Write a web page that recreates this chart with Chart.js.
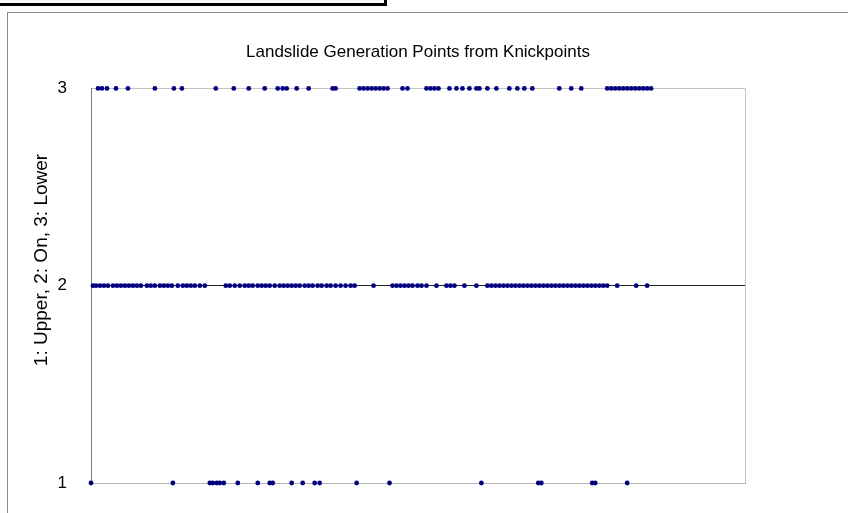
<!DOCTYPE html>
<html><head><meta charset="utf-8">
<script src="https://cdn.jsdelivr.net/npm/chart.js@4.4.0/dist/chart.umd.min.js"></script>
<style>
html,body{margin:0;padding:0;background:#fff;overflow:hidden;width:848px;height:513px;}
#frame{position:absolute;left:7px;top:12px;width:900px;height:600px;border:1px solid #8a8a8a;}
#box{position:absolute;left:-10px;top:-22px;width:391px;height:22px;border:3px solid #000;background:#fff;}
#c{position:absolute;left:0;top:0;}
</style></head>
<body>
<div id="frame"></div>
<div id="box"></div>
<canvas id="c" width="848" height="513"></canvas>
<script>
const chartTitle = 'Landslide Generation Points from Knickpoints';
const yAxisTitle = '1: Upper, 2: On, 3: Lower';
const yTickValues = [1, 2, 3];
// positions along the river (arbitrary distance units, no tick labels shown)
const upperPos = [0, 16.4, 23.8, 24.4, 25.2, 25.8, 26.6, 29.4, 33.4, 35.8, 36.4, 40.2, 42.4, 44.8, 45.8, 53.2, 59.8, 78.2, 89.6, 90.2, 100.4, 101.0, 107.4];
const onPos = [0.4, 1.0, 1.8, 2.6, 3.4, 4.4, 5.2, 6.0, 6.8, 7.6, 8.4, 9.2, 10.0, 11.2, 12.0, 12.8, 13.8, 14.6, 15.4, 16.2, 17.4, 18.4, 19.2, 20.0, 20.8, 21.8, 22.8,
  27.0, 27.8, 28.8, 29.8, 30.8, 31.6, 32.4, 33.4, 34.2, 35.0, 35.8, 36.8, 37.8, 38.6, 39.4, 40.2, 41.0, 41.8, 42.8, 43.6, 44.4, 45.4, 46.2, 47.2, 48.0, 49.0, 50.0, 51.0, 52.0, 52.8,
  56.6, 60.4, 61.2, 62.0, 62.8, 63.6, 64.4, 65.4, 66.2, 67.2, 69.2, 71.2, 72.0, 72.8, 74.8, 77.2,
  79.4, 80.2, 81.0, 81.8, 82.6, 83.4, 84.2, 85.0, 85.8, 86.6, 87.4, 88.2, 89.0, 89.8, 90.6, 91.4, 92.2, 93.0, 93.8, 94.6, 95.4, 96.2, 97.0, 97.8, 98.6, 99.4, 100.2, 101.0, 101.8, 102.6, 103.4,
  105.4, 109.2, 111.4];
const lowerPos = [1.4, 2.2, 3.2, 5.0, 7.4, 12.8, 16.6, 18.2, 25.0, 28.6, 31.6, 34.8, 37.4, 38.4, 39.2, 41.2, 43.6, 48.4, 49.0,
  53.8, 54.6, 55.4, 56.2, 57.0, 57.8, 58.6, 59.4, 62.4, 63.4, 67.2, 68.0, 68.8, 69.6, 71.8, 73.2, 74.4, 75.8, 77.2, 77.8, 79.4, 81.2,
  83.8, 85.4, 86.8, 88.4, 93.8, 96.2, 98.2, 103.4, 104.2, 105.0, 105.8, 106.6, 107.4, 108.2, 109.0, 109.8, 110.6, 111.4, 112.2];
const xMin = 0, xMax = 131;

const navy = '#000080';
function ds(xs, level) {
  return {
    data: xs.map(x => ({x: x, y: level})),
    backgroundColor: navy, borderColor: navy,
    pointRadius: 2.4, pointHoverRadius: 2.4, pointBorderWidth: 0,
    clip: false
  };
}
const fam = '"Liberation Sans", Arial, sans-serif';
const font = {family: fam, size: 17};

// rotated y-axis caption, placed like the original (centred a little above the plot middle)
const yCaption = {
  id: 'yCaption',
  afterDraw(chart) {
    const ctx = chart.ctx;
    ctx.save();
    ctx.translate(42, 260);
    ctx.rotate(-Math.PI / 2);
    ctx.font = '19px ' + fam;
    ctx.fillStyle = '#000';
    ctx.textAlign = 'center';
    ctx.textBaseline = 'middle';
    ctx.fillText(yAxisTitle, 0, 0);
    ctx.restore();
  }
};

new Chart(document.getElementById('c'), {
  type: 'scatter',
  data: {datasets: [ds(upperPos, 1), ds(onPos, 2), ds(lowerPos, 3)]},
  options: {
    responsive: false, animation: false, events: [],
    layout: {padding: {left: 0, right: 103, top: 0, bottom: 30}},
    plugins: {
      legend: {display: false}, tooltip: {enabled: false},
      title: {display: true, fullSize: false, text: chartTitle, color: '#000', font: {family: fam, size: 17, weight: 'normal'}, padding: {top: 42, bottom: 26}}
    },
    scales: {
      x: {
        type: 'linear', min: xMin, max: xMax,
        afterBuildTicks: s => { s.ticks = [{value: xMin}, {value: xMax}]; },
        afterFit: s => { s.height = 0; },
        ticks: {display: false},
        grid: {drawTicks: false, color: c => c.tick && c.tick.value === xMax ? '#c4c4c4' : 'rgba(0,0,0,0)'},
        border: {display: true, color: '#b4b4b4', width: 1}
      },
      y: {
        type: 'linear', min: 1, max: 3,
        afterBuildTicks: s => { s.ticks = yTickValues.map(v => ({value: v})); },
        afterFit: s => { s.width = 91; s.paddingTop = 0; s.paddingBottom = 0; },
        ticks: {color: '#000', font: font, padding: 24},
        grid: {drawTicks: false, color: c => c.tick && c.tick.value === 2 ? '#222' : (c.tick && c.tick.value === 3 ? '#c4c4c4' : 'rgba(0,0,0,0)')},
        border: {display: true, color: '#7a7a7a', width: 1}
      }
    }
  },
  plugins: [yCaption]
});
</script>
</body></html>
